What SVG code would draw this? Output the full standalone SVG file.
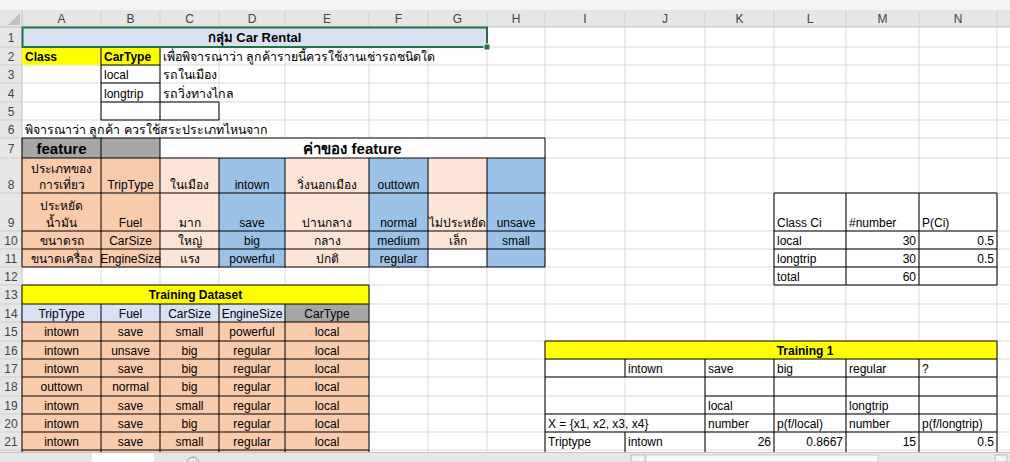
<svg xmlns="http://www.w3.org/2000/svg" width="1010" height="462" viewBox="0 0 1010 462">
<style>
.t{font-family:"Liberation Sans","Noto Sans","DejaVu Sans",sans-serif;font-size:12px;fill:#000}
.b{font-weight:bold}
.c{text-anchor:middle}
.r{text-anchor:end}
.h{fill:#444;font-size:12px}
.g{stroke:#D9D9D9;stroke-width:1;fill:none}
.k{stroke:#000;stroke-width:1;fill:none}
.big{font-size:15px}
.th{font-size:12.4px}
</style>
<rect x="0" y="0" width="1010" height="462" fill="#FFFFFF"/>
<!-- chrome -->
<g id="chrome">
<rect x="0" y="0" width="1010" height="10" fill="#F3F3F3"/>
<rect x="0" y="10" width="1010" height="17" fill="#E6E6E6"/>
<rect x="0" y="10" width="22" height="442" fill="#E6E6E6"/>
<polygon points="8,25 20,25 20,13" fill="#C0C0C0"/>
<line x1="0" y1="27" x2="1010" y2="27" stroke="#BFBFBF"/>
<line x1="22" y1="10" x2="22" y2="452" stroke="#BFBFBF"/>
<g stroke="#CFCFCF">
<line x1="101" y1="11" x2="101" y2="27"/><line x1="160" y1="11" x2="160" y2="27"/><line x1="219" y1="11" x2="219" y2="27"/><line x1="285" y1="11" x2="285" y2="27"/><line x1="369" y1="11" x2="369" y2="27"/><line x1="428" y1="11" x2="428" y2="27"/><line x1="487" y1="11" x2="487" y2="27"/><line x1="545" y1="11" x2="545" y2="27"/><line x1="625" y1="11" x2="625" y2="27"/><line x1="705" y1="11" x2="705" y2="27"/><line x1="774" y1="11" x2="774" y2="27"/><line x1="846" y1="11" x2="846" y2="27"/><line x1="919" y1="11" x2="919" y2="27"/><line x1="997" y1="11" x2="997" y2="27"/>
<line x1="0" y1="47" x2="22" y2="47"/><line x1="0" y1="65" x2="22" y2="65"/><line x1="0" y1="83" x2="22" y2="83"/><line x1="0" y1="102" x2="22" y2="102"/><line x1="0" y1="120" x2="22" y2="120"/><line x1="0" y1="138" x2="22" y2="138"/><line x1="0" y1="158" x2="22" y2="158"/><line x1="0" y1="193" x2="22" y2="193"/><line x1="0" y1="231" x2="22" y2="231"/><line x1="0" y1="249" x2="22" y2="249"/><line x1="0" y1="267" x2="22" y2="267"/><line x1="0" y1="285" x2="22" y2="285"/><line x1="0" y1="304" x2="22" y2="304"/><line x1="0" y1="322" x2="22" y2="322"/><line x1="0" y1="341" x2="22" y2="341"/><line x1="0" y1="359" x2="22" y2="359"/><line x1="0" y1="377" x2="22" y2="377"/><line x1="0" y1="396" x2="22" y2="396"/><line x1="0" y1="414" x2="22" y2="414"/><line x1="0" y1="432" x2="22" y2="432"/><line x1="0" y1="450" x2="22" y2="450"/>
</g>
<g class="t h c">
<text x="61.5" y="23">A</text><text x="130.5" y="23">B</text><text x="189.5" y="23">C</text><text x="252" y="23">D</text><text x="327" y="23">E</text><text x="398.5" y="23">F</text><text x="457.5" y="23">G</text><text x="516" y="23">H</text><text x="585" y="23">I</text><text x="665" y="23">J</text><text x="739.5" y="23">K</text><text x="810" y="23">L</text><text x="882.5" y="23">M</text><text x="958" y="23">N</text>
<text x="11" y="42">1</text><text x="11" y="61">2</text><text x="11" y="79">3</text><text x="11" y="98">4</text><text x="11" y="116">5</text><text x="11" y="134">6</text><text x="11" y="153">7</text><text x="11" y="189">8</text><text x="11" y="227">9</text><text x="11" y="245">10</text><text x="11" y="263">11</text><text x="11" y="281">12</text><text x="11" y="299">13</text><text x="11" y="318">14</text><text x="11" y="336">15</text><text x="11" y="355">16</text><text x="11" y="373">17</text><text x="11" y="391">18</text><text x="11" y="410">19</text><text x="11" y="428">20</text><text x="11" y="446">21</text>
</g>
</g>
<!-- gridlines -->
<g id="grid" class="g">
<path d="M101 27V452M160 27V452M219 27V452M285 27V452M369 27V452M428 27V452M487 27V452M545 27V452M625 27V452M705 27V452M774 27V452M846 27V452M919 27V452M997 27V452"/>
<path d="M22 47H1010M22 65H1010M22 83H1010M22 102H1010M22 120H1010M22 138H1010M22 158H1010M22 193H1010M22 231H1010M22 249H1010M22 267H1010M22 285H1010M22 304H1010M22 322H1010M22 341H1010M22 359H1010M22 377H1010M22 396H1010M22 414H1010M22 432H1010M22 450H1010"/>
</g>
<!-- header block -->
<g id="title">
<rect x="22" y="27" width="465" height="20" fill="#D9E1F2"/>
<text class="t b c" x="254.5" y="42" style="font-size:13px">กลุ่ม Car Rental</text>
</g>
<g id="class-block">
<rect x="22" y="47" width="79" height="18" fill="#FFFF00"/>
<rect x="101" y="47" width="59" height="18" fill="#FFFF00"/>
<path class="k" d="M101 47H160V120H101ZM101 65H160M101 83H160M101 102H219V120H160"/>
<text class="t b" x="25" y="61">Class</text>
<text class="t b" x="104" y="61">CarType</text>
<text class="t th" x="163" y="61">เพื่อพิจารณาว่า ลูกค้ารายนี้ควรใช้งานเช่ารถชนิดใด</text>
<text class="t" x="104" y="79">local</text>
<text class="t th" x="163" y="79">รถในเมือง</text>
<text class="t" x="104" y="98">longtrip</text>
<text class="t th" x="163" y="98">รถวิ่งทางไกล</text>
<text class="t th" x="25" y="134">พิจารณาว่า ลูกค้า ควรใช้สระประเภทไหนจาก</text>
</g>
<!-- feature table -->
<g id="feature-table">
<rect x="22" y="138" width="138" height="20" fill="#A6A6A6"/>
<rect x="160" y="138" width="385" height="20" fill="#FFFFFF"/>
<rect x="22" y="158" width="138" height="109" fill="#F8CBAD"/>
<rect x="160" y="158" width="59" height="109" fill="#FCE4D6"/>
<rect x="219" y="158" width="66" height="109" fill="#9BC2E6"/>
<rect x="285" y="158" width="84" height="109" fill="#FCE4D6"/>
<rect x="369" y="158" width="59" height="109" fill="#9BC2E6"/>
<rect x="428" y="158" width="59" height="91" fill="#FCE4D6"/>
<rect x="428" y="249" width="59" height="18" fill="#FFFFFF"/>
<rect x="487" y="158" width="58" height="109" fill="#9BC2E6"/>
<path class="k" d="M22 138H545V267H22ZM101 138V158M160 138V267M22 158H545M22 193H545M22 231H545M22 249H545M101 158V267M219 158V267M285 158V267M369 158V267M428 158V267M487 158V267"/>
<text class="t b c big" x="61.5" y="154">feature</text>
<text class="t b c big" x="352.5" y="154">ค่าของ feature</text>
<g class="t c">
<text x="61.5" y="173">ประเภทของ</text><text x="61.5" y="189">การเที่ยว</text>
<text x="130.5" y="189">TripType</text><text x="189.5" y="189">ในเมือง</text><text x="252" y="189">intown</text><text x="327" y="189">วิ่งนอกเมือง</text><text x="398.5" y="189">outtown</text>
<text x="61.5" y="210">ประหยัด</text><text x="61.5" y="227">น้ำมัน</text>
<text x="130.5" y="227">Fuel</text><text x="189.5" y="227">มาก</text><text x="252" y="227">save</text><text x="327" y="227">ปานกลาง</text><text x="398.5" y="227">normal</text><text x="457.5" y="227">ไม่ประหยัด</text><text x="516" y="227">unsave</text>
<text x="61.5" y="245">ขนาดรถ</text><text x="130.5" y="245">CarSize</text><text x="189.5" y="245">ใหญ่</text><text x="252" y="245">big</text><text x="327" y="245">กลาง</text><text x="398.5" y="245">medium</text><text x="457.5" y="245">เล็ก</text><text x="516" y="245">small</text>
<text x="61.5" y="263">ขนาดเครื่อง</text><text x="130.5" y="263">EngineSize</text><text x="189.5" y="263">แรง</text><text x="252" y="263">powerful</text><text x="327" y="263">ปกติ</text><text x="398.5" y="263">regular</text>
</g>
</g>
<!-- training dataset -->
<g id="training-dataset">
<rect x="22" y="285" width="347" height="19" fill="#FFFF00"/>
<rect x="22" y="304" width="263" height="18" fill="#D9E1F2"/>
<rect x="285" y="304" width="84" height="18" fill="#A6A6A6"/>
<rect x="22" y="322" width="347" height="130" fill="#F8CBAD"/>
<path class="k" d="M22 285H369V452M22 285V452M22 304H369M22 322H369M22 341H369M22 359H369M22 377H369M22 396H369M22 414H369M22 432H369M22 450H369M101 304V452M160 304V452M219 304V452M285 304V452"/>
<text class="t b c" x="195.5" y="299">Training Dataset</text>
<g class="t c">
<text x="61.5" y="318">TripType</text><text x="130.5" y="318">Fuel</text><text x="189.5" y="318">CarSize</text><text x="252" y="318">EngineSize</text><text x="327" y="318">CarType</text>
<text x="61.5" y="336">intown</text><text x="130.5" y="336">save</text><text x="189.5" y="336">small</text><text x="252" y="336">powerful</text><text x="327" y="336">local</text>
<text x="61.5" y="355">intown</text><text x="130.5" y="355">unsave</text><text x="189.5" y="355">big</text><text x="252" y="355">regular</text><text x="327" y="355">local</text>
<text x="61.5" y="373">intown</text><text x="130.5" y="373">save</text><text x="189.5" y="373">big</text><text x="252" y="373">regular</text><text x="327" y="373">local</text>
<text x="61.5" y="391">outtown</text><text x="130.5" y="391">normal</text><text x="189.5" y="391">big</text><text x="252" y="391">regular</text><text x="327" y="391">local</text>
<text x="61.5" y="410">intown</text><text x="130.5" y="410">save</text><text x="189.5" y="410">small</text><text x="252" y="410">regular</text><text x="327" y="410">local</text>
<text x="61.5" y="428">intown</text><text x="130.5" y="428">save</text><text x="189.5" y="428">big</text><text x="252" y="428">regular</text><text x="327" y="428">local</text>
<text x="61.5" y="446">intown</text><text x="130.5" y="446">save</text><text x="189.5" y="446">small</text><text x="252" y="446">regular</text><text x="327" y="446">local</text>
</g>
</g>
<!-- class Ci table -->
<g id="class-ci">
<path class="k" d="M774 193H997V285H774ZM774 231H997M774 249H997M774 267H997M846 193V285M919 193V285"/>
<g class="t">
<text x="777" y="227">Class Ci</text><text x="849" y="227">#number</text><text x="922" y="227">P(Ci)</text>
<text x="777" y="245">local</text><text class="r" x="916" y="245">30</text><text class="r" x="994" y="245">0.5</text>
<text x="777" y="263">longtrip</text><text class="r" x="916" y="263">30</text><text class="r" x="994" y="263">0.5</text>
<text x="777" y="281">total</text><text class="r" x="916" y="281">60</text>
</g>
</g>
<!-- training 1 -->
<g id="training-1">
<rect x="545" y="341" width="452" height="18" fill="#FFFF00"/>
<path class="k" d="M545 341H997V452M545 341V452M545 359H997M545 377H997M705 396H997M545 414H997M545 432H997M625 359V377M625 432V452M705 359V452M774 359V452M846 359V452M919 359V452"/>
<text class="t b c" x="805" y="355">Training 1</text>
<g class="t">
<text x="628" y="373">intown</text><text x="708" y="373">save</text><text x="777" y="373">big</text><text x="849" y="373">regular</text><text x="922" y="373">?</text>
<text x="708" y="410">local</text><text x="849" y="410">longtrip</text>
<text x="548" y="428">X = {x1, x2, x3, x4}</text><text x="708" y="428">number</text><text x="777" y="428">p(f/local)</text><text x="849" y="428">number</text><text x="922" y="428">p(f/longtrip)</text>
<text x="548" y="446">Triptype</text><text x="628" y="446">intown</text><text class="r" x="771" y="446">26</text><text class="r" x="843" y="446">0.8667</text><text class="r" x="916" y="446">15</text><text class="r" x="994" y="446">0.5</text>
</g>
</g>
<!-- selection -->
<g id="selection">
<rect x="22.5" y="27.5" width="464.5" height="19.5" fill="none" stroke="#217346" stroke-width="2"/>
<rect x="484" y="44" width="6" height="6" fill="#217346" stroke="#FFFFFF" stroke-width="1"/>
</g>
<!-- tab bar -->
<g id="tabbar">
<rect x="0" y="452" width="1010" height="10" fill="#E6E6E6"/>
<line x1="0" y1="452.5" x2="1010" y2="452.5" stroke="#C6C6C6"/>
<rect x="92" y="453" width="62" height="9" fill="#FFFFFF"/>
<circle cx="193" cy="463" r="6" fill="none" stroke="#9A9A9A"/>
<rect x="631" y="455" width="14" height="7" fill="#F3F3F3" stroke="#BDBDBD"/>
<rect x="646" y="455" width="232" height="7" fill="#F8F8F8" stroke="#D0D0D0"/>
<rect x="995" y="455" width="12" height="7" fill="#F3F3F3" stroke="#BDBDBD"/>
</g>
</svg>
